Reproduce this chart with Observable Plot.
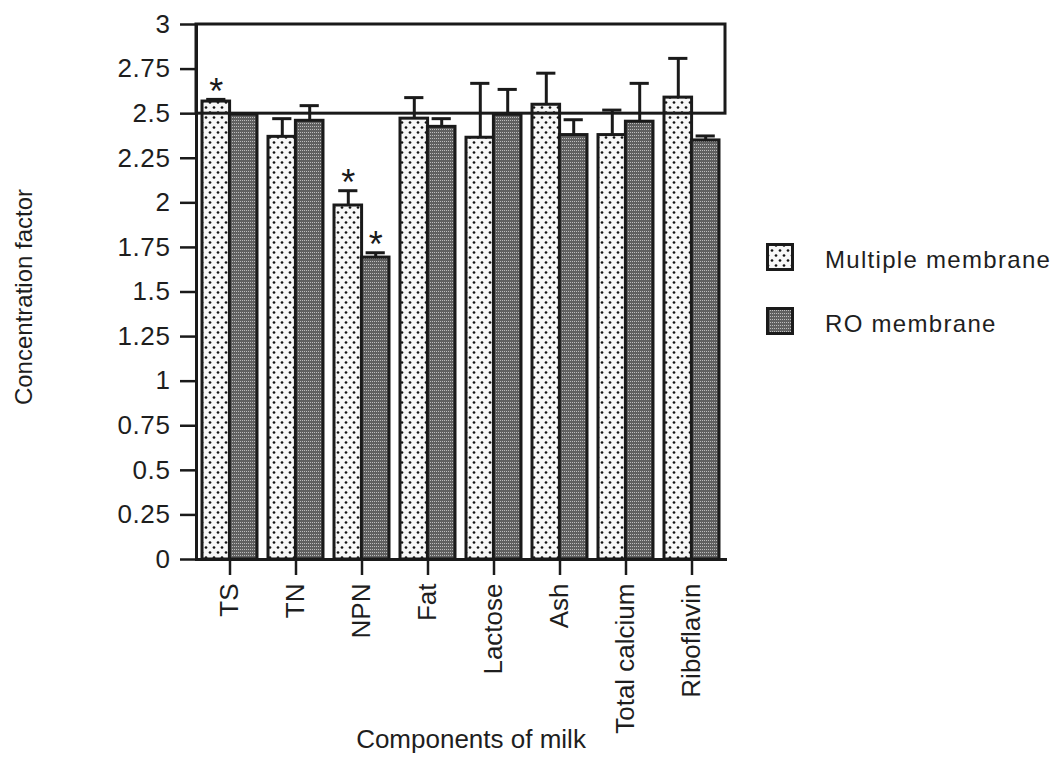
<!DOCTYPE html>
<html>
<head>
<meta charset="utf-8">
<script src="https://cdn.jsdelivr.net/npm/d3@7"></script>
<script src="https://cdn.jsdelivr.net/npm/@observablehq/plot@0.6"></script>
<style>
  body { margin: 0; background: #fff; }
  #wrap { position: relative; width: 1056px; height: 765px; font-family: "Liberation Sans", Arial, Helvetica, sans-serif; color: #1e1e1e; }
  #chart { position: absolute; left: 0; top: 0; }
  #legend { position: absolute; left: 766px; top: 243px; }
  .item { display: flex; align-items: center; height: 28px; margin-bottom: 36px; font-size: 24px; letter-spacing: 1.3px; }
  .item svg { margin-right: 31px; flex: none; }
  .item span { position: relative; top: 3px; white-space: nowrap; }
  [aria-label="y-axis tick label"] text { letter-spacing: 0.6px; }
  [aria-label="ylabel"] text { letter-spacing: 0.9px; }
</style>
</head>
<body>
<svg width="0" height="0" style="position:absolute">
  <defs>
    <pattern id="dots" patternUnits="userSpaceOnUse" width="8" height="10">
      <rect width="8" height="10" fill="#f7f7f7"/>
      <circle cx="2" cy="2.5" r="1.35" fill="#111"/>
      <circle cx="6" cy="7.5" r="1.35" fill="#111"/>
    </pattern>
    <pattern id="fine" patternUnits="userSpaceOnUse" width="2" height="3">
      <rect width="2" height="3" fill="#606060"/>
      <rect width="1" height="1" fill="#bdbdbd"/>
    </pattern>
  </defs>
</svg>
<div id="wrap">
  <div id="chart"></div>
  <div id="legend">
    <div class="item"><svg width="28" height="28"><rect x="1.5" y="1.5" width="25" height="25" fill="url(#dots)" stroke="#1a1a1a" stroke-width="3"/></svg><span>Multiple membrane</span></div>
    <div class="item"><svg width="28" height="28"><rect x="1.5" y="1.5" width="25" height="25" fill="url(#fine)" stroke="#1a1a1a" stroke-width="3"/></svg><span>RO membrane</span></div>
  </div>
</div>
<script>
// ---- data ----
const components = ["TS", "TN", "NPN", "Fat", "Lactose", "Ash", "Total calcium", "Riboflavin"];
const multipleMean = [2.568, 2.37, 1.985, 2.472, 2.365, 2.55, 2.38, 2.59];
const multipleErr  = [0.012, 0.102, 0.083, 0.118, 0.305, 0.177, 0.14, 0.22];
const roMean       = [2.495, 2.46, 1.693, 2.426, 2.494, 2.38, 2.455, 2.35];
const roErr        = [0.0, 0.085, 0.027, 0.046, 0.142, 0.086, 0.215, 0.025];
const multipleSig  = [true, false, true, false, false, false, false, false];
const roSig        = [false, false, true, false, false, false, false, false];
const yTicks = [0, 0.25, 0.5, 0.75, 1, 1.25, 1.5, 1.75, 2, 2.25, 2.5, 2.75, 3];
const refLines = [2.5, 3];
const seriesNames = ["Multiple membrane", "RO membrane"];

const rows = components.map((c, i) => ({
  component: c,
  mm: multipleMean[i], mmErr: multipleErr[i], mmSig: multipleSig[i],
  ro: roMean[i], roErr: roErr[i], roSig: roSig[i]
}));

const W = 1056, H = 765, mL = 196, mR = 331, mT = 24, mB = 206;
const padIn = 0.17, padOut = 0.09;
const bw = d3.scaleBand(components, [mL, W - mR]).paddingInner(padIn).paddingOuter(padOut).bandwidth();
const half = bw / 2, q = bw / 4, cap = 9.5;
const ink = "#1a1a1a";

const chart = Plot.plot({
  width: W, height: H,
  marginLeft: mL, marginRight: mR, marginTop: mT, marginBottom: mB,
  style: { fontFamily: "'Liberation Sans', Arial, Helvetica, sans-serif", fontSize: "24px", color: "#1e1e1e", background: "transparent" },
  x: { type: "band", domain: components, paddingInner: padIn, paddingOuter: padOut, axis: null },
  y: { domain: [0, 3], axis: null },
  marks: [
    Plot.barY(rows, { x: "component", y: "mm", fill: "url(#dots)", stroke: ink, strokeWidth: 3, insetRight: half }),
    Plot.barY(rows, { x: "component", y: "ro", fill: "url(#fine)", stroke: ink, strokeWidth: 3, insetLeft: half }),
    Plot.rect([0], { y1: refLines[0], y2: refLines[1], fill: "none", stroke: ink, strokeWidth: 3 }),
    Plot.frame({ anchor: "left", stroke: ink, strokeWidth: 3 }),
    Plot.frame({ anchor: "bottom", stroke: ink, strokeWidth: 3 }),
    // error bars
    Plot.ruleX(rows, { x: "component", y1: "mm", y2: d => d.mm + d.mmErr, dx: -q, stroke: ink, strokeWidth: 3 }),
    Plot.tickY(rows, { x: "component", y: d => d.mm + d.mmErr, insetLeft: q - cap, insetRight: bw - q - cap, stroke: ink, strokeWidth: 3 }),
    Plot.ruleX(rows.filter(d => d.roErr > 0), { x: "component", y1: "ro", y2: d => d.ro + d.roErr, dx: q, stroke: ink, strokeWidth: 3 }),
    Plot.tickY(rows.filter(d => d.roErr > 0), { x: "component", y: d => d.ro + d.roErr, insetLeft: bw - q - cap, insetRight: q - cap, stroke: ink, strokeWidth: 3 }),
    // significance stars
    Plot.text(rows.filter(d => d.mmSig), { x: "component", y: d => d.mm + d.mmErr, text: () => "*", dx: -q, dy: -7, fontSize: 36, fill: ink }),
    Plot.text(rows.filter(d => d.roSig), { x: "component", y: d => d.ro + d.roErr, text: () => "*", dx: q, dy: -7, fontSize: 36, fill: ink }),
    // axes
    Plot.axisY({ ticks: yTicks, tickFormat: d => String(d), tickSize: 16, tickPadding: 10, fontSize: 26, stroke: ink, strokeWidth: 2.5, label: null }),
    Plot.axisX({ tickRotate: -90, tickSize: 16, tickPadding: 8, fontSize: 26, stroke: ink, strokeWidth: 2.5, label: null }),
    Plot.text(["Components of milk"], { frameAnchor: "bottom", dx: 10, dy: 188, fontSize: 26, fill: "#1e1e1e" }),
    Plot.text(["Concentration factor"], { frameAnchor: "left", textAnchor: "middle", rotate: -90, dx: -172, dy: 5, fontSize: 24, fill: "#1e1e1e", ariaLabel: "ylabel" })
  ]
});
document.getElementById("chart").appendChild(chart);
</script>
</body>
</html>
